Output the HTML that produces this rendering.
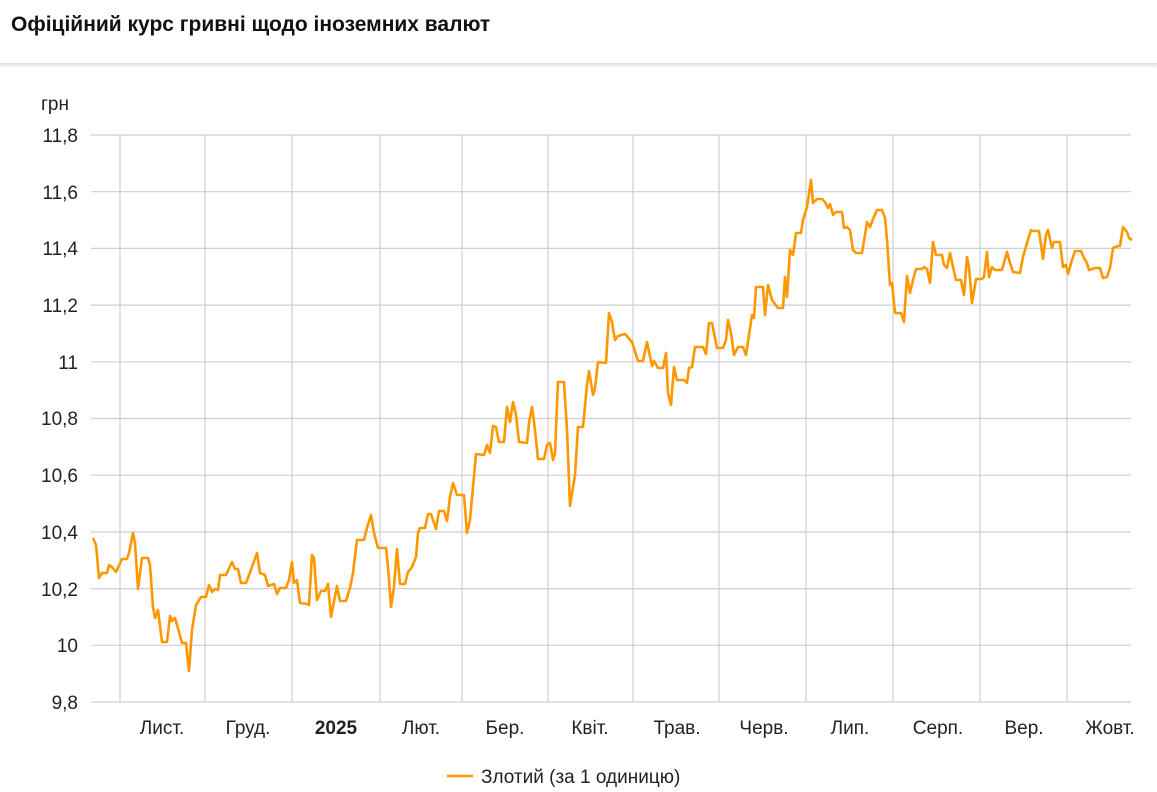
<!DOCTYPE html>
<html><head><meta charset="utf-8"><style>
html,body{margin:0;padding:0;background:#fff;width:1157px;height:792px;overflow:hidden}
.hdr{position:absolute;left:0;top:0;width:1157px;height:63px;border-bottom:1px solid #ddd;box-shadow:0 2px 3px rgba(0,0,0,0.12)}
.hdr div{position:absolute;left:11px;top:13px;font:bold 21px "Liberation Sans",sans-serif;color:#111}
svg{position:absolute;left:0;top:0}
text{font-family:"Liberation Sans",sans-serif;font-size:19px;fill:#222}
</style></head><body>
<div class="hdr"><div>Офіційний курс гривні щодо іноземних валют</div></div>
<svg width="1157" height="792">
<g stroke="#cfcfcf" stroke-width="1.2">
<line x1="91" x2="1131" y1="135" y2="135"/><line x1="91" x2="1131" y1="191.7" y2="191.7"/>
<line x1="91" x2="1131" y1="248.4" y2="248.4"/><line x1="91" x2="1131" y1="305.1" y2="305.1"/>
<line x1="91" x2="1131" y1="361.8" y2="361.8"/><line x1="91" x2="1131" y1="418.5" y2="418.5"/>
<line x1="91" x2="1131" y1="475.2" y2="475.2"/><line x1="91" x2="1131" y1="531.9" y2="531.9"/>
<line x1="91" x2="1131" y1="588.6" y2="588.6"/><line x1="91" x2="1131" y1="645.3" y2="645.3"/>
<line x1="91" x2="1131" y1="702" y2="702"/>
<line x1="120" x2="120" y1="135" y2="702"/><line x1="205" x2="205" y1="135" y2="702"/>
<line x1="292" x2="292" y1="135" y2="702"/><line x1="380" x2="380" y1="135" y2="702"/>
<line x1="462" x2="462" y1="135" y2="702"/><line x1="548" x2="548" y1="135" y2="702"/>
<line x1="633" x2="633" y1="135" y2="702"/><line x1="719" x2="719" y1="135" y2="702"/>
<line x1="806" x2="806" y1="135" y2="702"/><line x1="893" x2="893" y1="135" y2="702"/>
<line x1="980" x2="980" y1="135" y2="702"/><line x1="1067" x2="1067" y1="135" y2="702"/>
</g>
<text x="41" y="110">грн</text>
<g text-anchor="end">
<text x="78" y="142">11,8</text><text x="78" y="199">11,6</text><text x="78" y="255">11,4</text>
<text x="78" y="312">11,2</text><text x="78" y="369">11</text><text x="78" y="425">10,8</text>
<text x="78" y="482">10,6</text><text x="78" y="539">10,4</text><text x="78" y="596">10,2</text>
<text x="78" y="652">10</text><text x="78" y="709">9,8</text>
</g>
<g text-anchor="middle">
<text x="162" y="734">Лист.</text><text x="248" y="734">Груд.</text>
<text x="336" y="734" style="font-weight:bold">2025</text><text x="421" y="734">Лют.</text>
<text x="505" y="734">Бер.</text><text x="590" y="734">Квіт.</text><text x="677" y="734">Трав.</text>
<text x="764" y="734">Черв.</text><text x="850" y="734">Лип.</text><text x="938" y="734">Серп.</text>
<text x="1024" y="734">Вер.</text><text x="1110" y="734">Жовт.</text>
</g>
<polyline fill="none" stroke="#ff9800" stroke-width="2.6" stroke-linejoin="round" points="
93,538 96,545 99,578 102,573 107,573 109,565 112,567 116,572 122,559 127,559 129,553 133,533 135,543 138,589 142,558 148,558 150,565 153,607 155,618 158,610 162,642 167,642 170,616 172,621 175,618 179,632 182,643 186,643 189,671 192,630 196,605 201,597 206,597 209,585 212,592 215,589 218,590 220,575 226,575 232,562 235,569 238,569 241,583 246,583 252,567 257,553 260,573 265,575 268,586 274,584 277,594 280,588 286,588 289,580 292,562 294,583 297,580 300,603 307,604 309,605 312,555 314,558 317,600 321,591 325,591 328,584 331,617 337,586 340,601 346,601 350,588 353,573 357,540 364,540 367,528 371,515 374,533 378,548 386,548 388,567 391,607 394,587 397,549 400,584 405,584 408,572 412,567 416,557 418,533 420,528 425,528 428,514 431,514 436,529 439,511 444,511 447,521 450,497 453,483 457,495 464,495 467,533 470,520 473,487 476,454 484,455 487,445 490,453 493,426 496,427 499,442 504,442 507,407 510,422 513,402 516,415 519,442 527,443 529,423 532,407 535,430 538,459 544,459 547,445 550,443 553,460 555,453 558,382 564,382 567,430 570,506 575,475 578,427 583,427 587,385 589,371 593,395 595,388 598,362 606,363 609,313 612,322 615,340 618,336 625,334 632,342 638,361 643,361 647,342 652,366 654,361 658,368 663,368 666,353 668,393 671,405 674,367 677,380 684,380 687,383 689,368 692,367 695,347 703,347 706,354 709,323 712,323 717,348 723,348 726,340 728,320 731,333 734,355 738,347 743,347 746,355 749,335 752,315 754,318 756,287 763,287 765,315 768,285 772,300 778,308 783,308 785,277 787,297 790,250 793,255 796,233 801,233 803,220 807,207 811,180 813,203 817,199 822,199 825,202 828,208 830,204 833,215 836,212 842,212 844,228 847,227 850,230 853,250 856,253 862,253 865,235 867,222 870,227 873,219 877,210 882,210 885,218 887,240 890,285 892,283 895,313 901,313 904,322 907,276 910,293 913,280 916,269 922,269 924,267 927,269 930,283 933,242 936,255 942,255 944,265 947,268 950,253 953,267 956,280 961,280 964,295 967,257 969,267 972,303 976,279 982,279 984,277 987,252 989,277 992,267 995,270 1002,270 1007,252 1010,263 1013,272 1020,273 1023,257 1027,243 1031,230 1033,231 1039,231 1043,259 1046,235 1048,230 1052,248 1054,242 1060,242 1063,267 1066,265 1068,274 1072,260 1075,251 1081,251 1084,258 1087,263 1089,270 1095,268 1100,268 1103,278 1107,277 1110,268 1113,248 1118,246 1120,246 1123,227 1127,232 1129,238 1132,240"/>
<line x1="447" x2="473" y1="776" y2="776" stroke="#ff9800" stroke-width="2.5"/>
<text x="481" y="783">Злотий (за 1 одиницю)</text>
</svg>
</body></html>
